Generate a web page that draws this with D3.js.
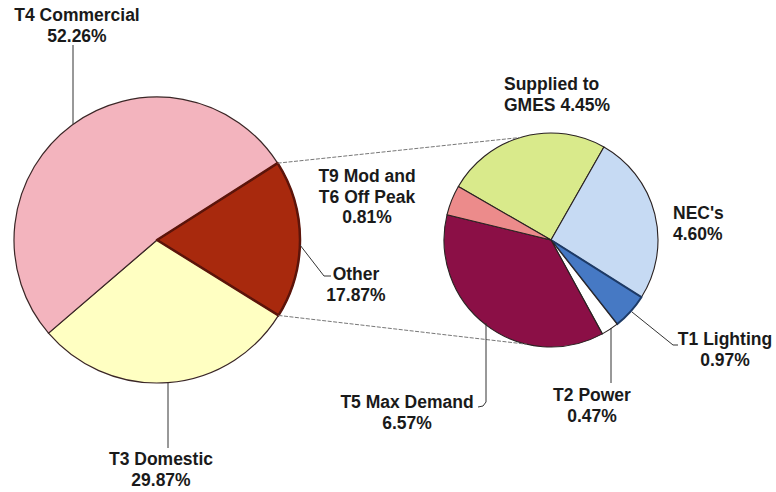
<!DOCTYPE html>
<html>
<head>
<meta charset="utf-8">
<script src="https://cdn.jsdelivr.net/npm/d3@7"></script>
<style>
  body { margin: 0; background: #fff; }
  text { font-family: "Liberation Sans", Arial, sans-serif; font-weight: bold; font-size: 17.5px; fill: #1a1a1a; }
</style>
</head>
<body>
<div id="viz"></div>
<script>
var width = 776;
var height = 492;

// main pie, clockwise from the "Other" slice
var mainNames = ["Other", "T3 Domestic", "T4 Commercial"];
var mainValues = [17.87, 29.87, 52.26];
var mainColors = ["#a8290d", "#ffffc2", "#f3b4be"];

// split of "Other", clockwise from "Supplied to GMES"
var subNames = ["Supplied to GMES", "NEC's", "T1 Lighting", "T2 Power", "T5 Max Demand", "T9 Mod and T6 Off Peak"];
var subValues = [4.45, 4.60, 0.97, 0.47, 6.57, 0.81];
var subColors = ["#d9ea8b", "#c6daf3", "#4679c4", "#ffffff", "#8b0f46", "#ec8b8b"];

var deg = Math.PI / 180;

var svg = d3.select("#viz").append("svg")
    .attr("width", width)
    .attr("height", height);

var mainPie = d3.pie().sort(null).startAngle(57.5 * deg).endAngle(417.5 * deg);
var subPie = d3.pie().sort(null).startAngle(-60 * deg).endAngle(300 * deg);

var rMain = 143, rSub = 107;
var mainArc = d3.arc().innerRadius(0).outerRadius(rMain);
var subArc = d3.arc().innerRadius(0).outerRadius(rSub);

var mainG = svg.append("g").attr("transform", "translate(157,240)");
var subG = svg.append("g").attr("transform", "translate(551,240)");

var mainSlices = mainPie(mainValues);
var subSlices = subPie(subValues);

function onCircle(cx, cy, r, a) {
  return [cx + r * Math.sin(a), cy - r * Math.cos(a)];
}

// connector lines between the two pies
var other = mainSlices[0];
var links = [
  [onCircle(157, 240, rMain, other.startAngle), onCircle(551, 240, rSub, -16.6 * deg)],
  [onCircle(157, 240, rMain, other.endAngle), onCircle(551, 240, rSub, 193 * deg)]
];
svg.selectAll(".link").data(links).enter().append("line")
    .attr("class", "link")
    .attr("x1", function(d) { return d[0][0]; })
    .attr("y1", function(d) { return d[0][1]; })
    .attr("x2", function(d) { return d[1][0]; })
    .attr("y2", function(d) { return d[1][1]; })
    .style("stroke", "#777")
    .style("stroke-width", 1)
    .style("stroke-dasharray", "4,1.5");

mainG.selectAll("path").data(mainSlices).enter().append("path")
    .attr("d", mainArc)
    .style("fill", function(d, i) { return mainColors[i]; })
    .style("stroke", "#3a2626")
    .style("stroke-width", 1.2);

// darker edge round the exploded slice
mainG.append("path")
    .attr("d", mainArc(other))
    .style("fill", "none")
    .style("stroke", "#5c140a")
    .style("stroke-width", 2.5)
    .style("stroke-linejoin", "round");

subG.selectAll("path").data(subSlices).enter().append("path")
    .attr("d", subArc)
    .style("fill", function(d, i) { return subColors[i]; })
    .style("stroke", function(d, i) { return i == 2 ? "#1d3a66" : "#2a2222"; })
    .style("stroke-width", function(d, i) { return i == 2 ? 2 : 1.1; })
    .style("stroke-linejoin", "round");

// leader lines
var leaders = [
  [[73, 45], [73, 124]],
  [[168, 383], [168, 448]],
  [[300, 245], [324, 276], [331, 276]],
  [[632, 312], [673, 345], [678, 345]],
  [[611, 328], [611, 383]],
  [[486, 323], [486, 402], [483, 406], [478, 407]]
];
svg.selectAll(".leader").data(leaders).enter().append("path")
    .attr("class", "leader")
    .attr("d", d3.line())
    .style("fill", "none")
    .style("stroke", "#333")
    .style("stroke-width", 1);

// labels: lines, x, first baseline, anchor
var labels = [
  [["T4 Commercial", "52.26%"], 77, 21, "middle"],
  [["T3 Domestic", "29.87%"], 161, 465, "middle"],
  [["Other", "17.87%"], 356, 280, "middle"],
  [["T9 Mod and", "T6 Off Peak", "0.81%"], 367, 182, "middle"],
  [["Supplied to", "GMES 4.45%"], 504, 90, "start"],
  [["NEC's", "4.60%"], 673, 219, "start"],
  [["T1 Lighting", "0.97%"], 725, 345, "middle"],
  [["T2 Power", "0.47%"], 592, 401, "middle"],
  [["T5 Max Demand", "6.57%"], 407, 408, "middle"]
];
labels.forEach(function(l) {
  var t = svg.append("text")
      .attr("x", l[1])
      .attr("y", l[2])
      .attr("text-anchor", l[3]);
  l[0].forEach(function(s, i) {
    t.append("tspan")
        .attr("x", l[1])
        .attr("dy", i == 0 ? 0 : 20.5)
        .text(s);
  });
});
</script>
</body>
</html>
